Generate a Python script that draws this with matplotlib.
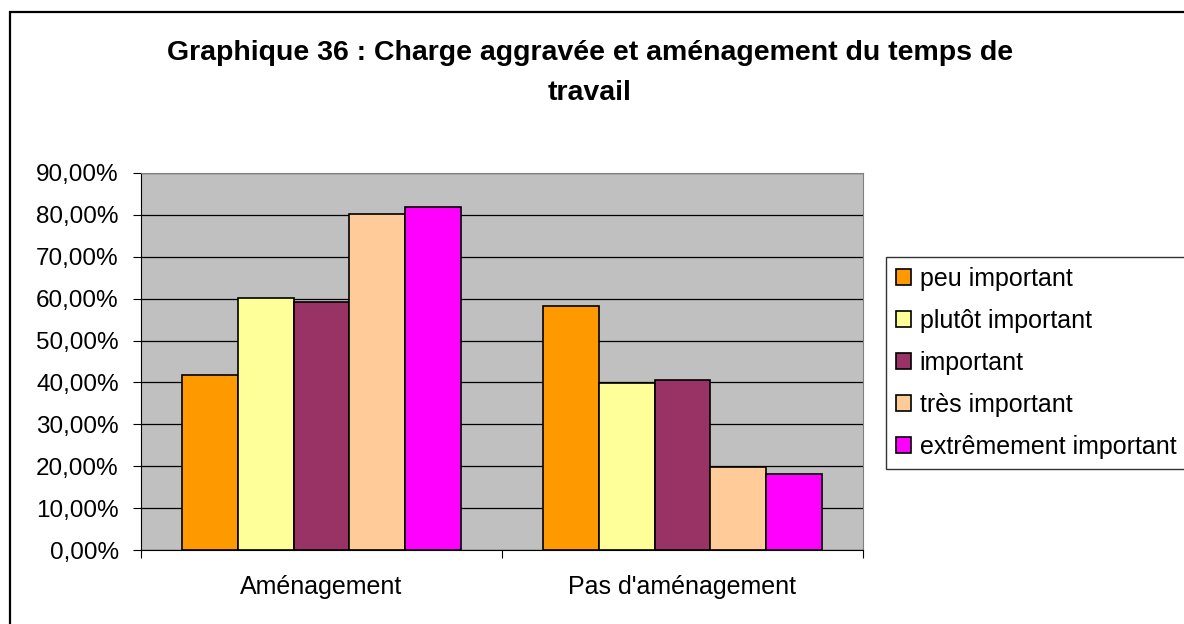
import numpy as np
import matplotlib.pyplot as plt
from matplotlib.patches import Rectangle
from matplotlib.ticker import FuncFormatter

plt.rcParams['font.family'] = ['Liberation Sans', 'DejaVu Sans']

# Data
categories = ["Aménagement", "Pas d'aménagement"]
series = ["peu important", "plutôt important", "important",
          "très important", "extrêmement important"]
peu = [41.8, 58.2]
plutot = [60.2, 39.8]
important = [59.3, 40.7]
tres = [80.1, 19.9]
extreme = [81.9, 18.1]
colors = ["#FF9900", "#FFFF99", "#993366", "#FFCC99", "#FF00FF"]

values = [peu, plutot, important, tres, extreme]

fig = plt.figure(figsize=(11.84, 6.24), dpi=100)

# outer frame of the chart (runs off the bottom/right edge)
fig.patches.append(Rectangle((9.5 / 1184, -0.1), 1.2, 1.1 - 11.5 / 624,
                             transform=fig.transFigure, fill=False,
                             edgecolor='black', linewidth=1.6))

ax = fig.add_axes([141 / 1184, 74 / 624, 722 / 1184, 377 / 624])
ax.set_facecolor('#C0C0C0')

x = np.arange(len(categories))
w = 0.155
for i, (vals, col, name) in enumerate(zip(values, colors, series)):
    ax.bar(x + (i - 2) * w, vals, w, color=col, edgecolor='black',
           linewidth=1.2, label=name, zorder=3)

ax.set_ylim(0, 90)
ax.set_xlim(-0.5, 1.5)
ax.set_yticks(np.arange(0, 91, 10))
ax.yaxis.set_major_formatter(FuncFormatter(lambda v, p: f"{v:.2f}%".replace('.', ',')))
ax.grid(axis='y', color='black', linewidth=0.9, zorder=1)
ax.set_axisbelow(True)

ax.set_xticks([-0.5, 0.5, 1.5])
ax.set_xticklabels([])
ax.set_xticks(x, minor=True)
ax.set_xticklabels(categories, minor=True)
ax.tick_params(axis='x', which='minor', length=0, labelsize=18, pad=18)
ax.tick_params(axis='x', which='major', length=6, direction='out')
ax.tick_params(axis='y', labelsize=17.5, length=6, direction='out', pad=10)

for side in ['top', 'right']:
    ax.spines[side].set_color('#808080')
ax.spines['left'].set_color('black')
ax.spines['bottom'].set_color('black')

fig.text(590 / 1184, 1 - 53 / 624,
         "Graphique 36 : Charge aggravée et aménagement du temps de",
         ha='center', va='center', fontsize=20.5, fontweight='bold')
fig.text(590 / 1184, 1 - 93 / 624, "travail",
         ha='center', va='center', fontsize=20.5, fontweight='bold')

leg = fig.legend(loc='upper left', bbox_to_anchor=(886 / 1184, 1 - 257 / 624),
                 fontsize=18, frameon=True, fancybox=False, handlelength=0.6,
                 handleheight=0.6, handletextpad=0.35, labelspacing=0.72,
                 borderpad=0.4, borderaxespad=0)
leg.get_frame().set_edgecolor('black')
leg.get_frame().set_linewidth(1.0)

fig.savefig("out.png", dpi=100)
